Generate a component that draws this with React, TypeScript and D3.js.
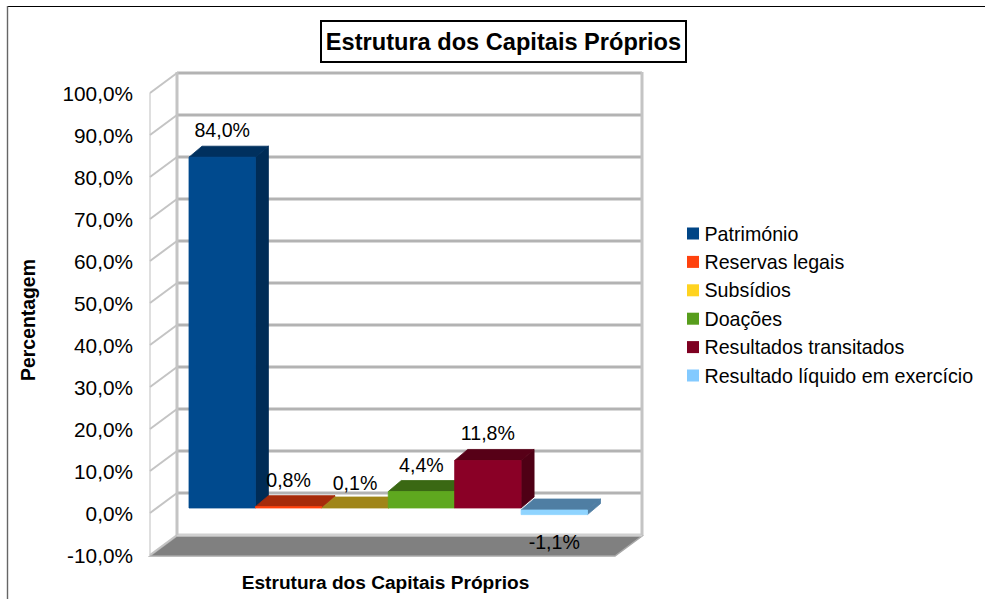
import React from "react";
import * as d3 from "d3";

const categories = ["Património", "Reservas legais", "Subsídios", "Doações", "Resultados transitados", "Resultado líquido em exercício"];
const values = [84.0, 0.8, 0.1, 4.4, 11.8, -1.1];
const labels = ["84,0%", "0,8%", "0,1%", "4,4%", "11,8%", "-1,1%"];
const frontColors = ["#004a8e", "#ff420e", "#ffd320", "#5fa81f", "#8a0026", "#8fd4ff"];
const legendColors = ["#004586", "#ff420e", "#ffd320", "#579d1c", "#7e0021", "#83caff"];
const sideColors = ["#002c56", "#a32a09", "#a08518", "#365f12", "#4f0015", "#4f7ea3"];
const topColors = ["#00305e", "#a62b0a", "#a08518", "#3a6813", "#570017", "#4f7ea3"];
const yTicks = [-10, 0, 10, 20, 30, 40, 50, 60, 70, 80, 90, 100];
const tickLabels = ["-10,0%", "0,0%", "10,0%", "20,0%", "30,0%", "40,0%", "50,0%", "60,0%", "70,0%", "80,0%", "90,0%", "100,0%"];

const FONT = "'Liberation Sans', Arial, sans-serif";
const WALL = "#b3b3b3";

export default function App() {
  // back wall scale
  const yBack = d3.scaleLinear().domain([-10, 100]).range([535, 73]);
  // bar mid-plane scale
  const yBar = d3.scaleLinear().domain([0, 84]).range([510, 157.2]);
  const barFoot = 508;
  const x = d3.scaleBand().domain(categories).range([189, 587.5]).paddingInner(0).paddingOuter(0);
  const wallDx = 27, wallDy = 20;
  const barDx = 13, barDy = 11;
  const line = d3.line();

  return (
    <svg width={985} height={599} style={{ position: "absolute", left: 0, top: 0, background: "#fff" }} fontFamily={FONT}>
      {/* outer frame */}
      <line x1={7} y1={6.5} x2={985} y2={6.5} stroke="#000" strokeWidth={1.2} />
      <line x1={7.5} y1={6} x2={7.5} y2={599} stroke="#666" strokeWidth={1.4} />

      {/* floor */}
      <path
        d={line([[150, 556], [150 + wallDx, 536], [642, 536], [615, 556]] as [number, number][]) + "Z"}
        fill="#808080"
        stroke="#a8a8a8"
        strokeWidth={1.5}
      />
      {/* left wall */}
      <line x1={150} y1={yBack(100) + wallDy} x2={150} y2={yBack(-10) + wallDy} stroke="#d4d4d4" strokeWidth={1.5} />
      {yTicks.map((t) => (
        <line key={t} x1={150} y1={yBack(t) + wallDy} x2={150 + wallDx} y2={yBack(t)} stroke="#c4c4c4" strokeWidth={2} />
      ))}
      {/* back wall */}
      {yTicks.slice(1).map((t) => (
        <line key={t} x1={177} y1={yBack(t)} x2={642} y2={yBack(t)} stroke={WALL} strokeWidth={3} />
      ))}
      <line x1={177} y1={yBack(-10)} x2={642} y2={yBack(-10)} stroke="#d0d0d0" strokeWidth={3} />
      <line x1={177} y1={yBack(100) - 1} x2={177} y2={yBack(-10)} stroke="#c4c4c4" strokeWidth={3} />
      <line x1={642} y1={yBack(100) - 1} x2={642} y2={yBack(-10)} stroke="#c4c4c4" strokeWidth={3} />

      {/* bars */}
      {categories.map((c, i) => {
        const v = values[i];
        const x0 = x(c)!;
        const x1 = x0 + x.bandwidth();
        const top = v >= 0 ? Math.min(yBar(v), barFoot) : yBar(0);
        const bottom = v >= 0 ? barFoot : yBar(v);
        const stroke = { strokeLinejoin: "round" as const, strokeWidth: 0.8 };
        return (
          <g key={c}>
            <path
              d={line([[x1, top], [x1 + barDx, top - barDy], [x1 + barDx, bottom - barDy], [x1, bottom]] as [number, number][]) + "Z"}
              fill={sideColors[i]}
              stroke={sideColors[i]}
              {...stroke}
            />
            <path
              d={line([[x0, top], [x0 + barDx, top - barDy], [x1 + barDx, top - barDy], [x1, top]] as [number, number][]) + "Z"}
              fill={topColors[i]}
              stroke={topColors[i]}
              {...stroke}
            />
            {bottom > top && (
              <rect x={x0} y={top} width={x1 - x0} height={bottom - top} fill={frontColors[i]} stroke={frontColors[i]} {...stroke} />
            )}
          </g>
        );
      })}

      {/* data labels */}
      {categories.map((c, i) => (
        <text
          key={c}
          x={x(c)! + x.bandwidth() / 2}
          y={values[i] >= 0 ? yBar(values[i]) - 20 : yBar(values[i]) + 34}
          textAnchor="middle"
          fontSize={19.6}
          fill="#000"
        >
          {labels[i]}
        </text>
      ))}

      {/* tick labels */}
      {yTicks.map((t, i) => (
        <text key={t} x={133} y={yBack(t) + wallDy + 1} dy="0.36em" textAnchor="end" fontSize={20.8} fill="#000">
          {tickLabels[i]}
        </text>
      ))}

      {/* title */}
      <rect x={321} y={21} width={365} height={41} fill="#fff" stroke="#000" strokeWidth={2} />
      <text x={503.5} y={50} textAnchor="middle" fontSize={23.6} fontWeight="bold" fill="#000">
        Estrutura dos Capitais Próprios
      </text>

      {/* axis titles */}
      <text x={385.5} y={589} textAnchor="middle" fontSize={19.1} fontWeight="bold" fill="#000">
        Estrutura dos Capitais Próprios
      </text>
      <text transform="translate(35,320) rotate(-90)" textAnchor="middle" fontSize={19.4} fontWeight="bold" fill="#000">
        Percentagem
      </text>

      {/* legend */}
      {categories.map((c, i) => {
        const cy = 233.5 + i * 28.4;
        return (
          <g key={c}>
            <rect x={687} y={cy - 6} width={12} height={12} fill={legendColors[i]} />
            <text x={704.5} y={cy} dy="0.36em" fontSize={19.65} fill="#000">
              {c}
            </text>
          </g>
        );
      })}
    </svg>
  );
}
